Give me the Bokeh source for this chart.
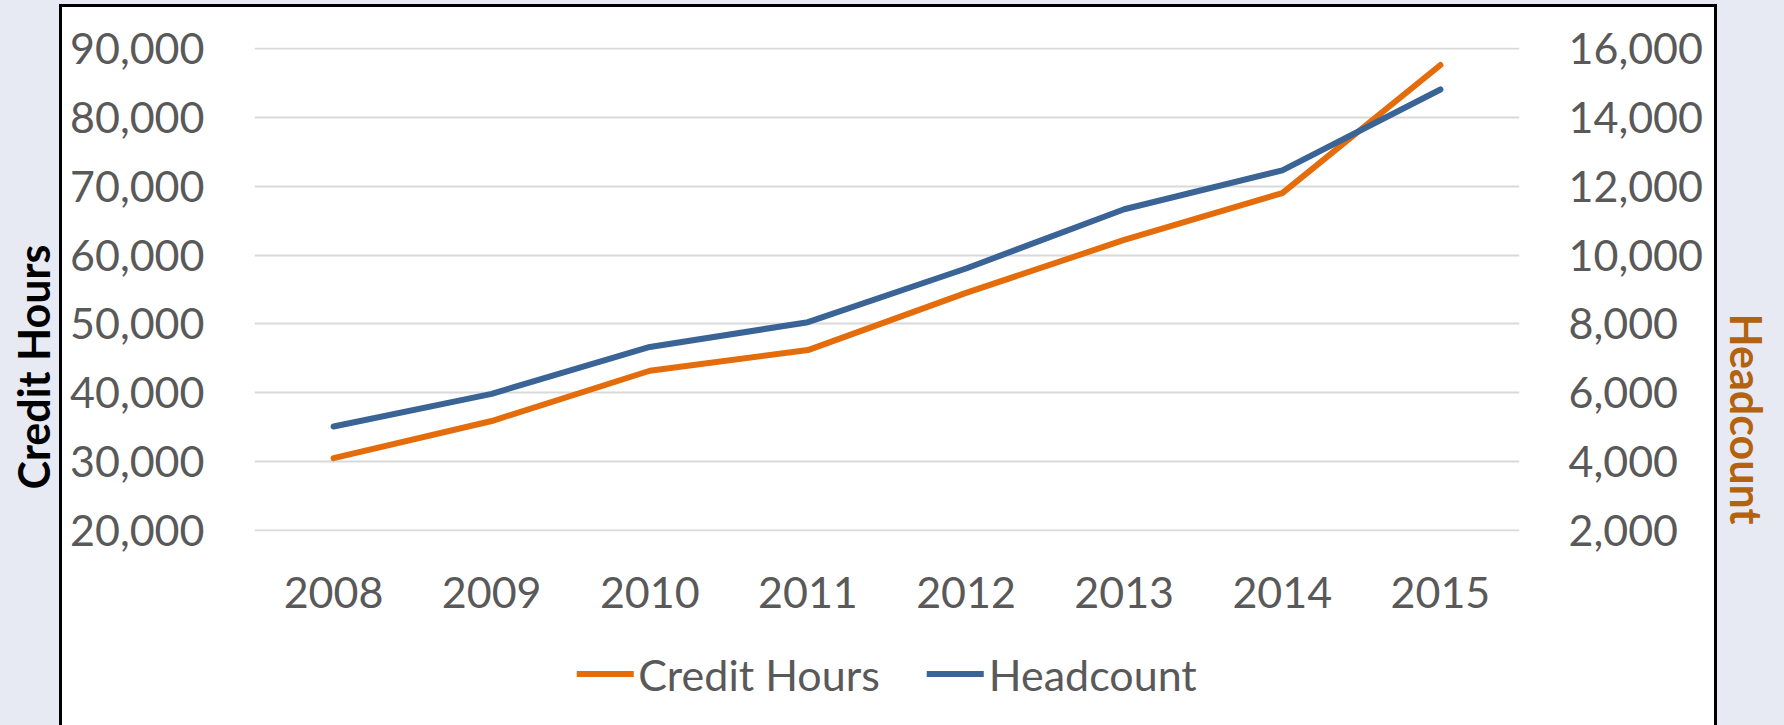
from bokeh.plotting import figure
from bokeh.layouts import column
from bokeh.models import (Range1d, LinearAxis, FixedTicker, NumeralTickFormatter,
                          Title, Legend, LegendItem)
from bokeh.embed import file_html
from bokeh.resources import INLINE

# ---- data ----
years = ["2008", "2009", "2010", "2011", "2012", "2013", "2014", "2015"]
credit_hours = [30500, 35900, 43200, 46200, 54500, 62200, 69000, 87600]
headcount = [5020, 5970, 7330, 8050, 9610, 11330, 12460, 14810]
left_ticks = [20000, 30000, 40000, 50000, 60000, 70000, 80000, 90000]
right_ticks = [2000, 4000, 6000, 8000, 10000, 12000, 14000, 16000]

xpos = list(range(len(years)))

FONT = "Lato"
GREY = "#595959"
ORANGE = "#E46C0A"
BLUE = "#3A6496"
PATTERN = "#E7EAF3"

bg_top = ", ".join([
    "linear-gradient(#000,#000) 59px 4px/3px 100% no-repeat",
    "linear-gradient(#000,#000) 1714px 4px/3px 100% no-repeat",
    "linear-gradient(#000,#000) 59px 4px/1658px 3px no-repeat",
    "linear-gradient(#fff,#fff) 59px 4px/1658px 100% no-repeat",
    PATTERN,
])
bg_bottom = ", ".join([
    "linear-gradient(#000,#000) 59px 0/3px 100% no-repeat",
    "linear-gradient(#000,#000) 1714px 0/3px 100% no-repeat",
    "linear-gradient(#fff,#fff) 59px 0/1658px 100% no-repeat",
    PATTERN,
])

lpad = (left_ticks[-1] - left_ticks[0]) / 482.0
rpad = (right_ticks[-1] - right_ticks[0]) / 482.0

p = figure(width=1784, height=630,
           output_backend="svg", toolbar_location=None,
           x_range=Range1d(-0.5, len(years) - 0.5),
           y_range=Range1d(left_ticks[0] - lpad, left_ticks[-1] + lpad),
           min_border_left=253, min_border_right=264,
           min_border_top=47, min_border_bottom=99,
           styles={"background": bg_top})
p.border_fill_color = None
p.background_fill_color = None
p.outline_line_color = None
p.extra_y_ranges = {"hc": Range1d(right_ticks[0] - rpad, right_ticks[-1] + rpad)}

xa = p.xaxis[0]
xa.ticker = FixedTicker(ticks=xpos)
xa.major_label_overrides = {i: y for i, y in enumerate(years)}
xa.axis_line_color = None
xa.major_tick_line_color = None
xa.minor_tick_line_color = None
xa.major_label_standoff = 39
xa.major_label_text_font = FONT
xa.major_label_text_font_size = "43px"
xa.major_label_text_color = GREY

ya = p.yaxis[0]
ya.ticker = FixedTicker(ticks=left_ticks)
ya.formatter = NumeralTickFormatter(format="0,0")
ya.axis_line_color = None
ya.major_tick_line_color = None
ya.minor_tick_line_color = None
ya.major_label_standoff = 44
ya.major_label_text_font = FONT
ya.major_label_text_font_size = "43px"
ya.major_label_text_color = GREY

ra = LinearAxis(y_range_name="hc", ticker=FixedTicker(ticks=right_ticks),
                formatter=NumeralTickFormatter(format="0,0"))
ra.axis_line_color = None
ra.major_tick_line_color = None
ra.minor_tick_line_color = None
ra.major_label_standoff = 43
ra.major_label_text_font = FONT
ra.major_label_text_font_size = "43px"
ra.major_label_text_color = GREY
p.add_layout(ra, "right")

p.xgrid.grid_line_color = None
p.ygrid.ticker = FixedTicker(ticks=left_ticks)
p.ygrid.grid_line_color = "#D9D9D9"
p.ygrid.grid_line_width = 2

p.line(xpos, credit_hours, line_color=ORANGE, line_width=6,
       line_cap="round", line_join="round")
p.line(xpos, headcount, y_range_name="hc", line_color=BLUE, line_width=6,
       line_cap="round", line_join="round")

p.add_layout(Title(text="Credit Hours", align="left", offset=42, vertical_align="top",
                   text_font=FONT, text_font_style="bold",
                   text_font_size="43px", text_color="black", standoff=14), "left")
p.add_layout(Title(text="Headcount", align="left", offset=266, vertical_align="top",
                   text_font=FONT, text_font_style="bold",
                   text_font_size="43px", text_color="#B3620F", standoff=26), "right")

# ---- legend strip (same series, drawn outside its visible range) ----
q = figure(width=1784, height=95, output_backend="svg", toolbar_location=None,
           x_axis_type=None, y_axis_type=None,
           x_range=Range1d(-0.5, len(years) - 0.5), y_range=Range1d(-2, -1),
           min_border=0, min_border_bottom=8, styles={"background": bg_bottom})
q.border_fill_color = None
q.background_fill_color = None
q.outline_line_color = None
q1 = q.line(xpos, credit_hours, line_color=ORANGE, line_width=6, line_cap="round")
q2 = q.line(xpos, headcount, line_color=BLUE, line_width=6, line_cap="round")

legend = Legend(items=[LegendItem(label="Credit Hours", renderers=[q1]),
                       LegendItem(label="Headcount", renderers=[q2])],
                location="center", orientation="horizontal",
                padding=0, margin=0, spacing=47, glyph_width=57, glyph_height=20,
                label_standoff=5, label_text_font=FONT, label_text_font_size="43px",
                label_text_color=GREY, background_fill_alpha=0,
                border_line_color=None)
q.add_layout(legend)

layout = column(p, q, spacing=0)
open("out.html", "w").write(file_html(layout, INLINE))
